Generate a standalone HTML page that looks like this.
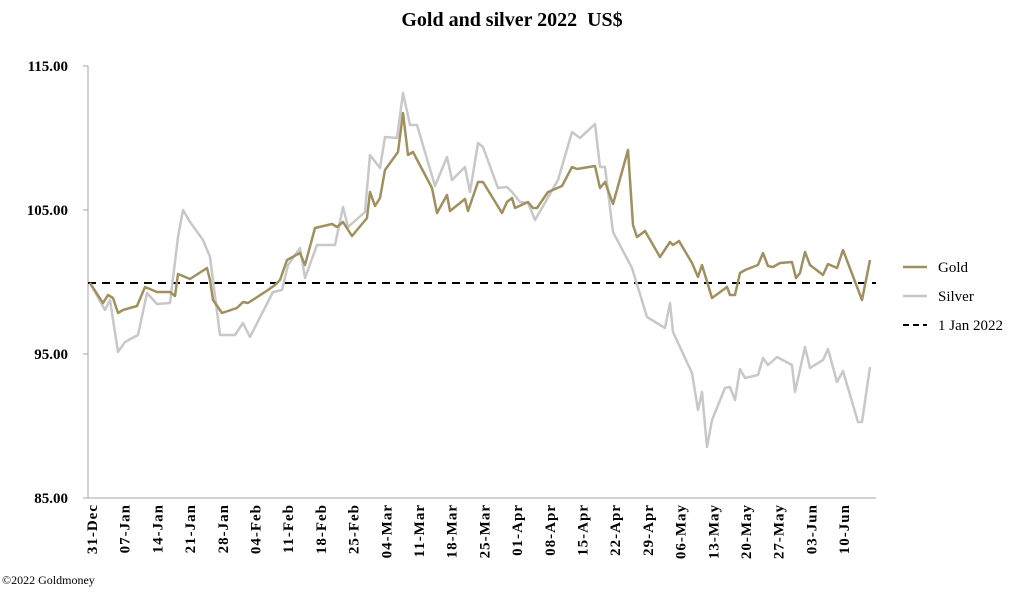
<!DOCTYPE html>
<html><head><meta charset="utf-8"><style>
body{margin:0;background:#fff;width:1024px;height:590px;overflow:hidden}
svg text{font-family:"Liberation Serif",serif}
</style></head><body>
<svg width="1024" height="590" viewBox="0 0 1024 590">
<text x="512" y="26" text-anchor="middle" font-size="20" font-weight="bold" xml:space="preserve">Gold and silver 2022  US$</text>
<g font-size="15" font-weight="bold" text-anchor="end">
<text x="68" y="71">115.00</text><text x="68" y="215">105.00</text><text x="68" y="359">95.00</text><text x="68" y="503">85.00</text>
</g>
<g stroke="#a6a6a6" stroke-width="1" fill="none">
<line x1="88" y1="66" x2="88" y2="498"/><line x1="88" y1="498" x2="876" y2="498"/>
<line x1="83" y1="66" x2="88" y2="66"/><line x1="83" y1="210" x2="88" y2="210"/><line x1="83" y1="354" x2="88" y2="354"/><line x1="83" y1="498" x2="88" y2="498"/>
</g>
<line x1="88" y1="283" x2="876" y2="283" stroke="#000" stroke-width="2" stroke-dasharray="8,6"/>
<polyline fill="none" stroke="#c8c8c8" stroke-width="2.5" stroke-linejoin="round" points="90,283 105,310 110,300 118,352 125,342 138,335 147,293 157,304 170,303 178,237 183,210 190,222 203,240 210,257 220,335 235,335 243,323 250,337 273,292 282,290 288,265 300,248 305,278 317,245 335,245 343,207 348,227 365,212 370,155 380,168 385,137 397,138 403,93 410,125 417,125 435,186 447,157 452,180 465,167 470,192 478,143 483,147 498,188 507,187 512,192 520,202 528,203 535,220 542,208 558,180 572,132 580,138 595,124 600,167 605,167 613,232 632,268 647,317 665,328 670,303 673,332 692,373 698,410 702,392 707,447 712,420 725,388 730,387 735,400 740,369 745,378 758,375 763,358 768,365 777,357 792,365 795,392 805,347 810,368 823,360 828,349 837,382 843,371 858,422 862,422 870,367"/>
<polyline fill="none" stroke="#a0905f" stroke-width="2.5" stroke-linejoin="round" points="90,283 103,303 108,295 113,298 118,313 123,310 137,306 145,287 157,292 170,292 175,296 178,274 190,279 207,268 210,280 213,300 222,313 237,308 243,302 248,303 268,290 275,285 280,280 287,260 300,253 305,265 315,228 332,224 337,227 343,222 352,236 367,218 370,192 375,206 380,198 385,170 398,152 403,113 408,155 413,152 432,188 437,213 447,195 450,211 465,199 468,211 478,182 483,182 502,213 507,202 512,198 515,208 528,202 533,208 537,208 548,192 562,186 572,167 577,169 595,166 600,188 605,182 613,204 628,150 633,225 637,237 645,231 660,257 670,242 673,245 679,241 692,263 698,277 702,265 712,298 727,287 730,295 735,295 740,273 745,270 758,265 763,253 768,266 773,267 780,263 792,262 796,278 800,273 805,252 810,265 823,275 828,264 837,268 843,250 862,300 870,260"/>
<line x1="903" y1="267" x2="927" y2="267" stroke="#a0905f" stroke-width="2.5"/>
<line x1="903" y1="296" x2="927" y2="296" stroke="#c8c8c8" stroke-width="2.5"/>
<line x1="903" y1="325" x2="927" y2="325" stroke="#000" stroke-width="2" stroke-dasharray="6,4"/>
<g font-size="15"><text x="938" y="272">Gold</text><text x="938" y="301">Silver</text><text x="938" y="330">1 Jan 2022</text></g>
<g font-size="15" font-weight="bold" text-anchor="end" letter-spacing="1">
<text transform="translate(97,504) rotate(-90)">31-Dec</text>
<text transform="translate(129.7,504) rotate(-90)">07-Jan</text>
<text transform="translate(162.4,504) rotate(-90)">14-Jan</text>
<text transform="translate(195.1,504) rotate(-90)">21-Jan</text>
<text transform="translate(227.8,504) rotate(-90)">28-Jan</text>
<text transform="translate(260.5,504) rotate(-90)">04-Feb</text>
<text transform="translate(293.2,504) rotate(-90)">11-Feb</text>
<text transform="translate(325.9,504) rotate(-90)">18-Feb</text>
<text transform="translate(358.6,504) rotate(-90)">25-Feb</text>
<text transform="translate(391.3,504) rotate(-90)">04-Mar</text>
<text transform="translate(424,504) rotate(-90)">11-Mar</text>
<text transform="translate(456.7,504) rotate(-90)">18-Mar</text>
<text transform="translate(489.4,504) rotate(-90)">25-Mar</text>
<text transform="translate(522.1,504) rotate(-90)">01-Apr</text>
<text transform="translate(554.8,504) rotate(-90)">08-Apr</text>
<text transform="translate(587.5,504) rotate(-90)">15-Apr</text>
<text transform="translate(620.2,504) rotate(-90)">22-Apr</text>
<text transform="translate(652.9,504) rotate(-90)">29-Apr</text>
<text transform="translate(685.6,504) rotate(-90)">06-May</text>
<text transform="translate(718.3,504) rotate(-90)">13-May</text>
<text transform="translate(751,504) rotate(-90)">20-May</text>
<text transform="translate(783.7,504) rotate(-90)">27-May</text>
<text transform="translate(816.4,504) rotate(-90)">03-Jun</text>
<text transform="translate(849.1,504) rotate(-90)">10-Jun</text>
</g>
<text x="2" y="584" font-size="12">©2022 Goldmoney</text>
</svg>
</body></html>
